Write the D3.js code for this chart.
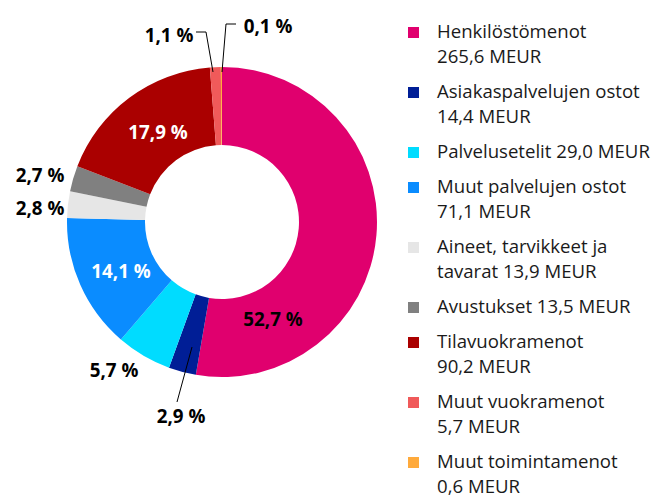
<!DOCTYPE html>
<html><head><meta charset="utf-8">
<script src="https://cdn.jsdelivr.net/npm/d3@7"></script>
<style>html,body{margin:0;padding:0;background:#fff;}svg{display:block;}</style>
</head><body>
<svg id="c" width="669" height="503"></svg>
<script>
const categories = ["Henkilöstömenot","Asiakaspalvelujen ostot","Palvelusetelit","Muut palvelujen ostot","Aineet, tarvikkeet ja tavarat","Avustukset","Tilavuokramenot","Muut vuokramenot","Muut toimintamenot"];
const values = [265.6, 14.4, 29.0, 71.1, 13.9, 13.5, 90.2, 5.7, 0.6];
const percentLabels = ["52,7 %","2,9 %","5,7 %","14,1 %","2,8 %","2,7 %","17,9 %","1,1 %","0,1 %"];
const legendLines = [
  ["Henkilöstömenot","265,6 MEUR"],
  ["Asiakaspalvelujen ostot","14,4 MEUR"],
  ["Palvelusetelit 29,0 MEUR"],
  ["Muut palvelujen ostot","71,1 MEUR"],
  ["Aineet, tarvikkeet ja","tavarat 13,9 MEUR"],
  ["Avustukset 13,5 MEUR"],
  ["Tilavuokramenot","90,2 MEUR"],
  ["Muut vuokramenot","5,7 MEUR"],
  ["Muut toimintamenot","0,6 MEUR"]
];
const colors = ["#E0006E","#001E96","#00DCFF","#0A8CFF","#E6E6E6","#808080","#AA0000","#F05A5A","#FFAA3C"];

// label layout (x centre, baseline y, fill, optional leader polyline)
const labelLayout = [
  {x:273,y:326,fill:"#000"},
  {x:181,y:423,fill:"#000",leader:[[177,402],[192,347]]},
  {x:114,y:377,fill:"#000"},
  {x:121,y:278,fill:"#fff"},
  {x:40,y:215,fill:"#000"},
  {x:40,y:182,fill:"#000"},
  {x:158,y:139,fill:"#fff"},
  {x:169,y:42,fill:"#000",leader:[[196,32],[206,32],[213,72]]},
  {x:268,y:33,fill:"#000",leader:[[236,24],[226,24],[222,72]]}
];

const svg = d3.select("#c");
const cx = 222, cy = 222, rOuter = 155, rInner = 77;
const color = d3.scaleOrdinal().domain(categories).range(colors);
const pie = d3.pie().sort(null).value(d => d)(values);
const arc = d3.arc().innerRadius(rInner).outerRadius(rOuter);

const g = svg.append("g").attr("transform", `translate(${cx},${cy})`);
g.selectAll("path").data(pie).join("path")
  .attr("d", arc)
  .attr("fill", (d,i) => color(categories[i]));

const lbl = svg.append("g");
labelLayout.forEach((L,i) => {
  if (L.leader) {
    lbl.append("path").attr("d", d3.line()(L.leader))
      .attr("fill","none").attr("stroke","#000").attr("stroke-width",1);
  }
  lbl.append("text").attr("x",L.x).attr("y",L.y)
    .attr("text-anchor","middle")
    .attr("font-family","'Open Sans', sans-serif")
    .attr("font-weight","bold").attr("font-size",18.8)
    .attr("fill",L.fill).text(percentLabels[i]);
});

// legend
const legendTops = [];
let yb = 38;
legendLines.forEach((lines) => { legendTops.push(yb); yb += lines.length === 2 ? 60 : 35; });
const lg = svg.append("g");
legendLines.forEach((lines,i) => {
  const y0 = legendTops[i];
  lg.append("rect").attr("x",408).attr("y",y0-11).attr("width",11).attr("height",11)
    .attr("fill", color(categories[i]));
  lines.forEach((t,j) => {
    lg.append("text").attr("x",437).attr("y",y0 + j*25)
      .attr("font-family","'Open Sans', sans-serif").attr("font-size",18.6)
      .attr("fill","#1a1a1a").text(t);
  });
});
</script>
</body></html>
